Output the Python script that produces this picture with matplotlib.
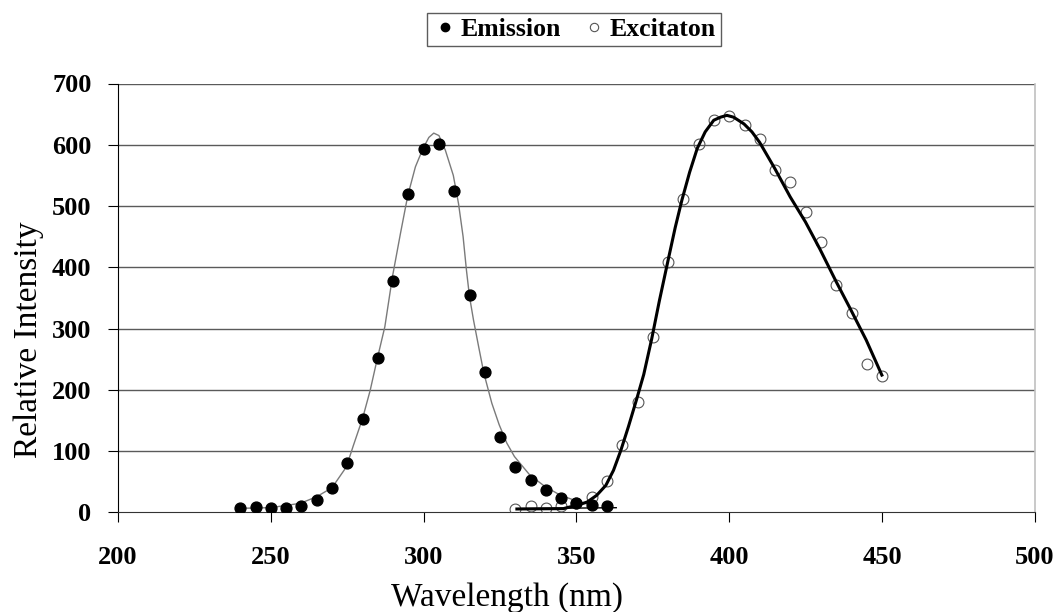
import matplotlib
matplotlib.use("Agg")
import matplotlib.pyplot as plt
from matplotlib.lines import Line2D

# --- data ---
em_x = [240, 245, 250, 255, 260, 265, 270, 275, 280, 285, 290, 295, 300,
        305, 310, 315, 320, 325, 330, 335, 340, 345, 350, 355, 360]
em_y = [7.6, 9, 7.6, 7.6, 11, 20, 39, 80, 152, 252, 378, 519, 593,
        600.5, 524, 354, 229, 123, 74, 52, 36, 24, 15, 12.5, 10]

ex_x = [330, 335, 340, 345, 350, 355, 360, 365, 370, 375, 380, 385, 390,
        395, 400, 405, 410, 415, 420, 425, 430, 435, 440, 445, 450]
ex_y = [4.9, 9.8, 7.6, 10.3, 15, 25, 51.7, 110, 179.5, 286, 408.6, 512, 601.7,
        641, 647, 633, 609, 559, 540, 490, 442, 371.6, 325, 242, 222]

# fitted curves
em_fit_x = [240, 250, 259.7, 265, 270, 274.7, 277, 280, 282.5, 284.7, 287.3,
            289.8, 292.4, 294.8, 297.3, 299.7, 301.7, 303.3, 305, 307.1, 309.7,
            311.4, 312.9, 314, 315, 316.3, 318, 319.7, 322.3, 324.7, 327.2,
            329.7, 334.7, 339.7, 344.7, 349.7, 353.4]
em_fit_y = [6.5, 7.6, 14.7, 25.5, 40, 74, 109, 153, 199, 248, 303,
            385, 455, 517, 564, 593, 612, 619, 615, 591, 550,
            504, 450, 395, 352, 314, 270, 227, 178, 143, 113,
            91, 61, 42, 28, 19, 14]

ex_fit_x = [330.5, 345.7, 351.2, 353.5, 356.6, 359.6, 362.1, 364.5, 367, 369.7,
            372, 374.6, 377.1, 379.9, 382.3, 384.5, 387,
            389.5, 392.1, 394.9, 397.1, 399.2, 401.4, 404.8, 407.4, 409.9,
            414.9, 419.9, 424.9, 429.6, 435, 439.6, 444.8, 449.9]
ex_fit_y = [5.4, 6, 13, 16.8, 27.7, 44, 68.5, 101, 140, 185,
            225, 283, 345, 410, 465, 510, 555,
            594, 621, 640, 645, 648, 645, 634, 621, 604,
            561, 515, 474, 430, 376, 332, 281, 224]

base_x = [331, 363]
base_y = [6, 7.5]

x_ticks = [200, 250, 300, 350, 400, 450, 500]
y_ticks = [0, 100, 200, 300, 400, 500, 600, 700]

serif = ["Liberation Serif", "DejaVu Serif"]

W, H = 1057, 612
x0, x1, y_bot, y_top = 118, 1035, 512.3, 83.5
fig = plt.figure(figsize=(W / 100, H / 100), dpi=100)
ax = fig.add_axes([x0 / W, 1 - y_bot / H, (x1 - x0) / W, (y_bot - y_top) / H])

ax.set_xlim(200, 500)
ax.set_ylim(0, 700)

for yv in y_ticks[1:]:
    ax.axhline(yv, color="#5a5a5a", lw=1.0, zorder=1)

ax.plot(em_fit_x, em_fit_y, color="#7a7a7a", lw=1.0, zorder=2)
ax.plot(base_x, base_y, color="black", lw=1.0, zorder=2)
ax.plot(ex_x, ex_y, linestyle="none", marker="o", ms=7.8, mfc="none",
        mec="#555555", mew=0.8, zorder=3)
ax.plot(ex_fit_x, ex_fit_y, color="black", lw=2.2, zorder=4,
        solid_joinstyle="round")
ax.plot(em_x, em_y, linestyle="none", marker="o", ms=7.8, mfc="black",
        mec="black", zorder=5)

ax.set_xticks(x_ticks)
ax.set_yticks(y_ticks)
ax.tick_params(axis="x", direction="out", length=7, width=0.8, pad=17,
               labelsize=19)
ax.tick_params(axis="y", direction="out", length=7, width=0.8, pad=12,
               labelsize=19)
for lab in ax.get_xticklabels() + ax.get_yticklabels():
    lab.set_family(serif)
    lab.set_fontweight("bold")

ax.spines["top"].set_visible(False)
ax.spines["right"].set_color("#c0c0c0")
ax.spines["right"].set_linewidth(1.2)
ax.spines["left"].set_color("black")
ax.spines["bottom"].set_color("#333333")

ax.set_xlabel("Wavelength (nm)", family=serif, fontsize=24)
ax.set_ylabel("Relative Intensity", family=serif, fontsize=24)
ax.xaxis.set_label_coords((507 - x0) / (x1 - x0), -(582 - y_bot) / (y_bot - y_top))
ax.yaxis.set_label_coords(-(x0 - 44) / (x1 - x0), (y_bot - 340) / (y_bot - y_top))

handles = [
    Line2D([], [], linestyle="none", marker="o", ms=6, mfc="black", mec="black"),
    Line2D([], [], linestyle="none", marker="o", ms=6, mfc="none", mec="#555555", mew=0.8),
]
leg = fig.legend(handles, ["Emission", "Excitaton"], loc="center",
                 bbox_to_anchor=(574 / W, 1 - 29.5 / H), ncol=2,
                 prop={"family": serif, "weight": "bold", "size": 18.5},
                 frameon=True, fancybox=False, handletextpad=0.1,
                 columnspacing=0.8, handlelength=1.0, borderpad=0.2)
leg.get_frame().set_edgecolor("#333333")
leg.get_frame().set_linewidth(1.0)

fig.savefig("out.png", dpi=100)
